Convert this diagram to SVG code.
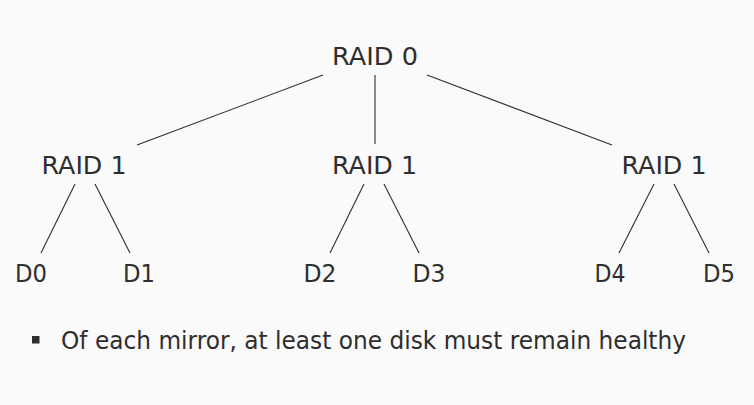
<svg xmlns="http://www.w3.org/2000/svg" width="754" height="405" viewBox="0 0 754 405">
<style>
text{font-family:"DejaVu Sans","Liberation Sans",sans-serif;fill:#2e2e2e;font-size:25.5px;text-anchor:middle}
.c line{stroke:#2e2e2e;stroke-width:1.1}
</style>
<rect width="754" height="405" fill="#fafafa"/>
<g class="c" id="connectors">
<line x1="323" y1="75" x2="137" y2="145"/>
<line x1="375" y1="75" x2="375" y2="144"/>
<line x1="427" y1="75" x2="612" y2="145"/>
<line x1="75" y1="184" x2="41" y2="253"/>
<line x1="95" y1="184" x2="130" y2="253"/>
<line x1="364" y1="184" x2="330" y2="253"/>
<line x1="384" y1="184" x2="419" y2="253"/>
<line x1="654" y1="184" x2="619" y2="253"/>
<line x1="674" y1="184" x2="709" y2="253"/>
</g>
<g id="raid0"><text x="375" y="65" textLength="86" lengthAdjust="spacingAndGlyphs">RAID 0</text></g>
<g id="raid1a"><text x="84" y="174" textLength="85" lengthAdjust="spacingAndGlyphs">RAID 1</text></g>
<g id="raid1b"><text x="374.5" y="174" textLength="85" lengthAdjust="spacingAndGlyphs">RAID 1</text></g>
<g id="raid1c"><text x="664" y="174" textLength="85" lengthAdjust="spacingAndGlyphs">RAID 1</text></g>
<g id="d0"><text x="31" y="282" textLength="32" lengthAdjust="spacingAndGlyphs">D0</text></g>
<g id="d1"><text x="139" y="282" textLength="32" lengthAdjust="spacingAndGlyphs">D1</text></g>
<g id="d2"><text x="320" y="282" textLength="33" lengthAdjust="spacingAndGlyphs">D2</text></g>
<g id="d3"><text x="429" y="282" textLength="33" lengthAdjust="spacingAndGlyphs">D3</text></g>
<g id="d4"><text x="610" y="282" textLength="31" lengthAdjust="spacingAndGlyphs">D4</text></g>
<g id="d5"><text x="719" y="282" textLength="32" lengthAdjust="spacingAndGlyphs">D5</text></g>
<g id="bullet">
<rect x="32" y="336" width="7.5" height="7.5" fill="#2e2e2e"/>
<text x="61" y="348.5" style="text-anchor:start" textLength="625" lengthAdjust="spacingAndGlyphs">Of each mirror, at least one disk must remain healthy</text>
</g>
</svg>
